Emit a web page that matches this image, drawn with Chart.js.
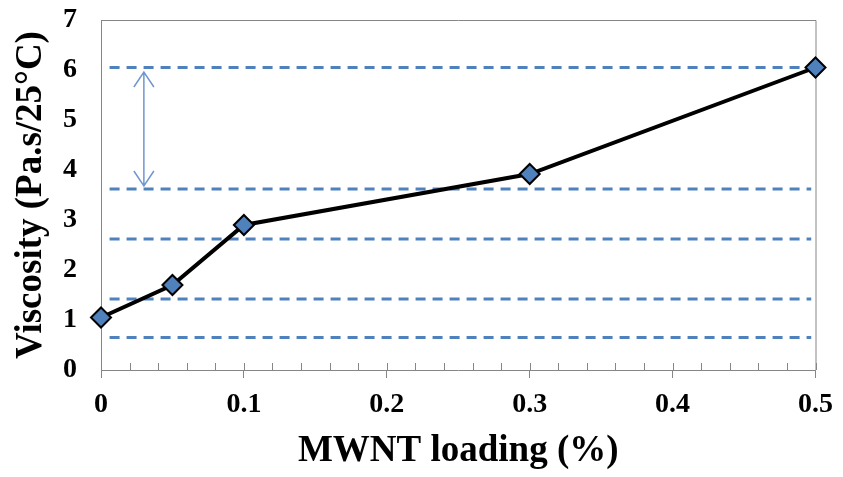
<!DOCTYPE html>
<html>
<head>
<meta charset="utf-8">
<script src="https://cdn.jsdelivr.net/npm/chart.js@4.4.0/dist/chart.umd.min.js"></script>
<style>
html, body { margin: 0; padding: 0; background: #fff; }
#wrap { width: 843px; height: 477px; }
</style>
</head>
<body>
<div id="wrap"><canvas id="chart"></canvas></div>
<script>
const loading = [0, 0.05, 0.1, 0.3, 0.5];
const viscosity = [1.05, 1.7, 2.9, 3.92, 6.05];
const refLevels = [6.05, 3.62, 2.62, 1.42, 0.65];
const refSpan = [0.006, 0.497];
const arrowX = 0.03;
const arrowEnds = [5.96, 3.68];
const xTicks = [0, 0.1, 0.2, 0.3, 0.4, 0.5];

const axisGray = '#868686';
const font = 'Liberation Serif, Times New Roman, serif';

function majorLabel(v) {
    const m = xTicks.find(t => Math.abs(t - v) < 1e-6);
    return m === undefined ? null : String(m);
}

const datasets = [{
    data: loading.map((x, i) => ({ x: x, y: viscosity[i] })),
    borderColor: '#000',
    borderWidth: 4,
    pointStyle: 'rectRot',
    pointRadius: 10,
    pointBackgroundColor: '#4f81bd',
    pointBorderColor: '#000',
    pointBorderWidth: 2,
    clip: false,
    order: 0
}];
refLevels.forEach(v => {
    datasets.push({
        data: refSpan.map(x => ({ x: x, y: v })),
        borderColor: '#4f81bd',
        borderWidth: 3,
        borderDash: [10, 7],
        pointRadius: 0,
        clip: false,
        order: 1
    });
});

// plot box, minor ticks and the double arrow
const extras = {
    id: 'extras',
    beforeDatasetsDraw(chart) {
        const c = chart.ctx;
        const a = chart.chartArea;
        const xs = chart.scales.x, ys = chart.scales.y;
        c.save();
        c.strokeStyle = axisGray;
        c.lineWidth = 1;
        c.beginPath();
        c.moveTo(a.left, a.top + 0.5);
        c.lineTo(a.right + 0.5, a.top + 0.5);
        c.lineTo(a.right + 0.5, a.bottom);
        c.stroke();
        xs.ticks.forEach(t => {
            const px = Math.round(xs.getPixelForValue(t.value)) + 0.5;
            c.beginPath();
            c.moveTo(px, a.bottom);
            c.lineTo(px, a.bottom - 7);
            c.stroke();
        });

        const px = xs.getPixelForValue(arrowX);
        const y1 = ys.getPixelForValue(arrowEnds[0]);
        const y2 = ys.getPixelForValue(arrowEnds[1]);
        c.strokeStyle = '#6f97cf';
        c.lineWidth = 1.5;
        c.beginPath();
        c.moveTo(px, y1);
        c.lineTo(px, y2);
        c.moveTo(px - 10, y1 + 15);
        c.lineTo(px, y1);
        c.lineTo(px + 10, y1 + 15);
        c.moveTo(px - 10, y2 - 15);
        c.lineTo(px, y2);
        c.lineTo(px + 10, y2 - 15);
        c.stroke();
        c.restore();
    }
};

const ctx = document.getElementById('chart').getContext('2d');
const chart = new Chart(ctx, {
    type: 'line',
    data: { datasets: datasets },
    plugins: [extras],
    options: {
        responsive: true,
        maintainAspectRatio: false,
        animation: false,
        layout: { padding: { top: 20, right: 25, left: 0, bottom: 0 } },
        plugins: {
            legend: { display: false },
            tooltip: { enabled: false }
        },
        scales: {
            x: {
                type: 'linear',
                min: 0,
                max: 0.5,
                afterFit: s => { s.height = 107; },
                ticks: {
                    stepSize: 0.02,
                    autoSkip: false,
                    maxRotation: 0,
                    padding: 10,
                    color: '#000',
                    font: { family: font, size: 28, weight: 'bold' },
                    callback: v => majorLabel(v) || ''
                },
                grid: {
                    drawOnChartArea: false,
                    tickLength: 8,
                    tickColor: c => (c.tick && majorLabel(c.tick.value)) ? axisGray : 'rgba(0,0,0,0)'
                },
                border: { color: axisGray, width: 1 },
                title: {
                    display: true,
                    text: 'MWNT loading (%)',
                    color: '#000',
                    padding: { top: 0, bottom: 3 },
                    font: { family: font, size: 37, weight: 'bold' }
                }
            },
            y: {
                min: 0,
                max: 7,
                afterFit: s => { s.width = 101; s.paddingTop = 0; s.paddingBottom = 0; },
                ticks: {
                    stepSize: 1,
                    padding: 24,
                    color: '#000',
                    font: { family: font, size: 28, weight: 'bold' }
                },
                grid: { drawOnChartArea: false, drawTicks: false },
                border: { color: axisGray, width: 1 },
                title: {
                    display: true,
                    text: 'Viscosity (Pa.s/25°C)',
                    color: '#000',
                    padding: { top: 9, bottom: 0 },
                    font: { family: font, size: 37, weight: 'bold' }
                }
            }
        }
    }
});
</script>
</body>
</html>
